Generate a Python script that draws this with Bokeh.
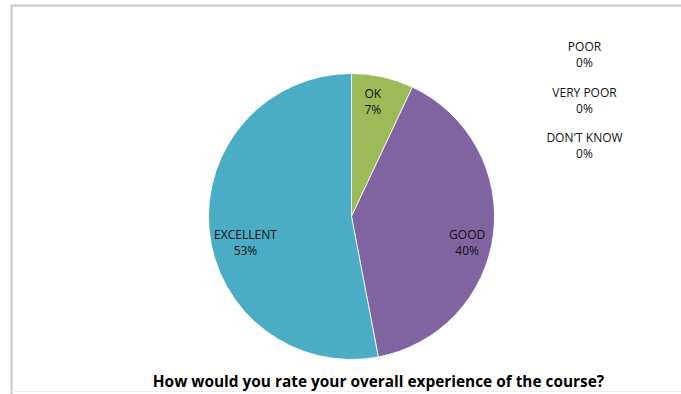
import math
from bokeh.plotting import figure
from bokeh.models import Range1d, Label
from bokeh.embed import file_html
from bokeh.resources import INLINE

# ---- data ----
categories = ["OK", "GOOD", "EXCELLENT", "POOR", "VERY POOR", "DON'T KNOW"]
percents = [7, 40, 53, 0, 0, 0]
colors = ["#9BBB59", "#8064A2", "#4BACC6", "#C0504D", "#F79646", "#2C4D75"]
title_text = "How would you rate your overall experience of the course?"

# ---- layout ----
W, H = 681, 394
CX, CY, R = 351, H - 216, 143

p = figure(width=W, height=H, output_backend="svg", toolbar_location=None,
           x_range=Range1d(0, W), y_range=Range1d(0, H), min_border=0,
           background_fill_color="white", border_fill_color="white")
p.axis.visible = False
p.grid.visible = False
p.outline_line_color = None

# chart border
p.line(x=[11, 11, W + 5], y=[-5, H - 5, H - 5], line_color="#c8c8c8", line_width=2)
p.line(x=[11, W + 5], y=[H - 391, H - 391], line_color="#eeeeee", line_width=1)

total = float(sum(percents))
start = math.pi / 2
starts, ends, mids = [], [], []
for v in percents:
    sweep = 2 * math.pi * v / total
    end = start - sweep
    starts.append(start)
    ends.append(end)
    mids.append((start + end) / 2)
    start = end

nz = [i for i, v in enumerate(percents) if v > 0]
p.wedge(x=CX, y=CY, radius=R,
        start_angle=[starts[i] for i in nz], end_angle=[ends[i] for i in nz],
        direction="clock", fill_color=[colors[i] for i in nz],
        line_color="white", line_width=0.8)

font = "Open Sans"
fs = "12px"
rl = 0.78 * R
zero_i = 0
for i, (c, v) in enumerate(zip(categories, percents)):
    if v > 0:
        a = mids[i]
        lx = CX + rl * math.cos(a)
        ly = CY + rl * math.sin(a)
        if abs(math.cos(a)) > 0.8:
            lx += 5
            ly -= 16 if math.cos(a) < 0 else 12
        else:
            lx -= 3
            ly += 6
    else:
        lx = CX + 233
        ly = CY + 162 - zero_i * 45.5
        zero_i += 1
    p.add_layout(Label(x=lx, y=ly - 0.5, text=c, text_align="center", text_baseline="bottom",
                       text_font=font, text_font_size=fs, text_color="#111111"))
    p.add_layout(Label(x=lx, y=ly + 0.5, text=f"{v}%", text_align="center", text_baseline="top",
                       text_font=font, text_font_size=fs, text_color="#111111"))

p.add_layout(Label(x=378, y=H - 381, text=title_text, text_align="center",
                   text_baseline="middle", text_font=font, text_font_size="15.4px",
                   text_font_style="bold", text_color="#000000"))

open("out.html", "w").write(file_html(p, INLINE))
